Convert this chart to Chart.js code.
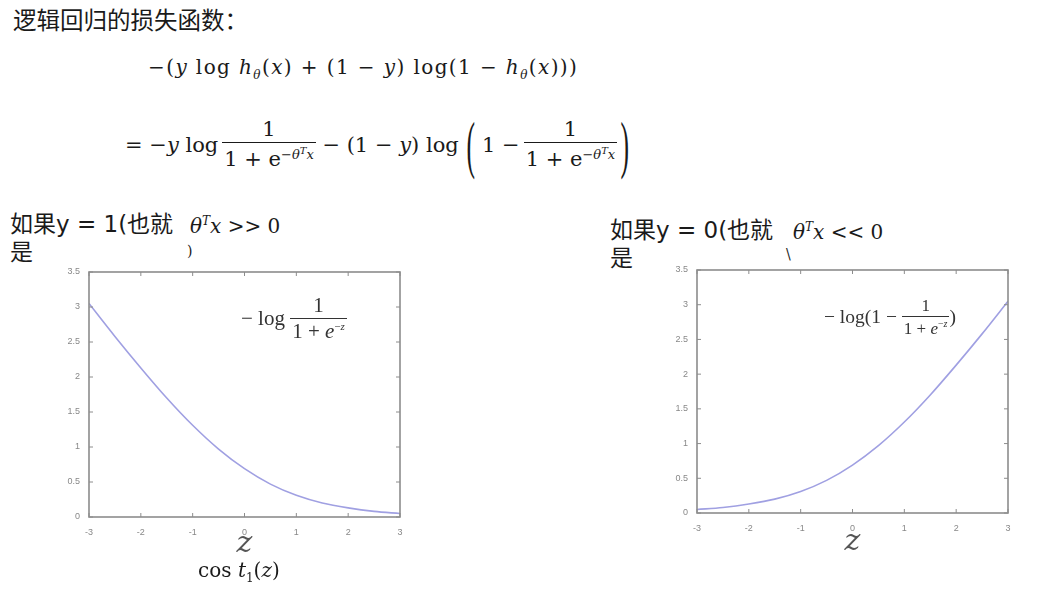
<!DOCTYPE html>
<html lang="zh">
<head>
<meta charset="UTF-8" />
<title>逻辑回归的损失函数</title>
<script src="https://cdn.jsdelivr.net/npm/chart.js@4.4.0/dist/chart.umd.min.js"></script>
<style>
    body { margin: 0; width: 1053px; height: 591px; background: #fff; position: relative; overflow: hidden; }
    .abs { position: absolute; white-space: nowrap; line-height: 1; }
    .cjk { font-family: "DejaVu Sans", "Noto Sans CJK SC", sans-serif; color: #1a1a1a; }
    .math { font-family: "DejaVu Serif", "Liberation Serif", serif; color: #1a1a1a; }
    .tex { font-family: "Liberation Serif", serif; color: #333; }
    .math i, .tex i { font-style: italic; }
    .frac { display: inline-flex; flex-direction: column; align-items: center; vertical-align: middle; }
    .frac .num { padding: 0 2px 2px; }
    .frac .den { border-top: 1.3px solid #1a1a1a; padding: 2px 2px 0; }
    .row { display: flex; align-items: center; }
    .big { font-size: 64px; transform: scaleX(0.4); display: inline-block; font-family: "Liberation Serif", serif; margin: 0 -3px; }
    .gap { display: inline-block; width: 4px; }
    canvas { position: absolute; }
</style>
</head>
<body>
    <div class="abs cjk" style="left:13px;top:8px;font-size:23.5px;font-family:'Noto Sans CJK SC',sans-serif;">逻辑回归的损失函数：</div>

    <div class="abs math" style="left:148px;top:57px;font-size:20px;letter-spacing:1.4px;">
        −(<i>y</i> log <i>h</i><sub style="font-size:12px"><i>θ</i></sub>(<i>x</i>) + (1 − <i>y</i>) log(1 − <i>h</i><sub style="font-size:12px"><i>θ</i></sub>(<i>x</i>)))
    </div>

    <div class="abs math row" style="left:125px;top:113px;height:64px;font-size:21px;">
        <span>= −<i>y</i> log</span>
        <span class="gap"></span>
        <span class="frac"><span class="num">1</span><span class="den">1 + e<sup style="font-size:13px">−<i>θ</i><sup style="font-size:10px"><i>T</i></sup><i>x</i></sup></span></span>
        <span>&nbsp;− (1 − <i>y</i>) log</span>
        <span class="gap"></span>
        <span class="big">(</span>
        <span class="gap"></span>
        <span>1 −</span>
        <span class="gap"></span>
        <span class="frac"><span class="num">1</span><span class="den">1 + e<sup style="font-size:13px">−<i>θ</i><sup style="font-size:10px"><i>T</i></sup><i>x</i></sup></span></span>
        <span class="big">)</span>
    </div>

    <div class="abs cjk" style="left:10px;top:213px;font-size:23px;">如果y = 1(也就</div>
    <div class="abs math" style="left:190px;top:215px;font-size:20px;"><i>θ</i><sup style="font-size:12px"><i>T</i></sup><i>x</i> &gt;&gt; 0</div>
    <div class="abs cjk" style="left:10px;top:241px;font-size:23px;">是</div>
    <div class="abs math" style="left:187px;top:244px;font-size:14px;">)</div>

    <div class="abs cjk" style="left:610px;top:219px;font-size:23px;">如果y = 0(也就</div>
    <div class="abs math" style="left:793px;top:221px;font-size:20px;"><i>θ</i><sup style="font-size:12px"><i>T</i></sup><i>x</i> &lt;&lt; 0</div>
    <div class="abs cjk" style="left:610px;top:247px;font-size:23px;">是</div>
    <div class="abs math" style="left:786px;top:247px;font-size:14px;">\</div>

    <canvas id="costPos" width="350" height="300" style="left:60px;top:262px;"></canvas>
    <canvas id="costNeg" width="350" height="300" style="left:668px;top:260px;"></canvas>

    <div class="abs tex" style="left:241px;top:295px;font-size:21px;">
        <span class="row"><span>− log&nbsp;</span><span class="frac"><span class="num">1</span><span class="den" style="border-color:#333">1 + <i>e</i><sup style="font-size:11px">−<i>z</i></sup></span></span></span>
    </div>
    <div class="abs tex" style="left:824px;top:297px;font-size:19.5px;">
        <span class="row"><span>− log(1 −&nbsp;</span><span class="frac" style="font-size:17px"><span class="num">1</span><span class="den" style="border-color:#333">1 + <i>e</i><sup style="font-size:10px">−<i>z</i></sup></span></span><span>)</span></span>
    </div>

    <div class="abs math" style="left:198px;top:560px;font-size:20px;">cos <i>t</i><sub style="font-size:12px">1</sub>(<i>z</i>)</div>

<script>
    const zValues = [-3, -2.5, -2, -1.5, -1, -0.5, 0, 0.5, 1, 1.5, 2, 2.5, 3];
    const costWhenY1 = [3.05, 2.58, 2.13, 1.70, 1.31, 0.97, 0.69, 0.47, 0.31, 0.20, 0.13, 0.08, 0.05];
    const costWhenY0 = [0.05, 0.08, 0.13, 0.20, 0.31, 0.47, 0.69, 0.97, 1.31, 1.70, 2.13, 2.58, 3.05];
    const xTicks = [-3, -2, -1, 0, 1, 2, 3];
    const yTicks = [0, 0.5, 1, 1.5, 2, 2.5, 3, 3.5];

    const axisColor = "#8c8c8c";

    // matlab style box with ticks pointing inwards
    const boxPlugin = {
        id: "box",
        afterDraw(chart) {
            const ctx = chart.ctx;
            const a = chart.chartArea;
            const x = chart.scales.x;
            const y = chart.scales.y;
            ctx.save();
            ctx.strokeStyle = axisColor;
            ctx.lineWidth = 1.6;
            ctx.strokeRect(a.left, a.top, a.right - a.left, a.bottom - a.top);
            ctx.lineWidth = 1;
            ctx.beginPath();
            xTicks.forEach(function (v) {
                const px = x.getPixelForValue(v);
                ctx.moveTo(px, a.bottom); ctx.lineTo(px, a.bottom - 4);
                ctx.moveTo(px, a.top); ctx.lineTo(px, a.top + 4);
            });
            yTicks.forEach(function (v) {
                const py = y.getPixelForValue(v);
                ctx.moveTo(a.left, py); ctx.lineTo(a.left + 4, py);
                ctx.moveTo(a.right, py); ctx.lineTo(a.right - 4, py);
            });
            ctx.stroke();
            ctx.restore();
        }
    };

    function makeChart(id, values, xAxisHeight) {
        return new Chart(document.getElementById(id), {
            type: "line",
            data: {
                datasets: [{
                    data: zValues.map(function (z, i) { return { x: z, y: values[i] }; }),
                    borderColor: "#a0a0e2",
                    borderWidth: 1.6,
                    pointRadius: 0,
                    cubicInterpolationMode: "monotone",
                    fill: false
                }]
            },
            options: {
                responsive: false,
                animation: false,
                layout: { padding: { top: 10, right: 10, left: 0, bottom: 0 } },
                plugins: { legend: { display: false }, tooltip: { enabled: false } },
                scales: {
                    x: {
                        type: "linear",
                        min: -3,
                        max: 3,
                        afterBuildTicks: function (s) { s.ticks = xTicks.map(function (v) { return { value: v }; }); },
                        afterFit: function (s) { s.height = xAxisHeight; },
                        grid: { display: false },
                        border: { display: false },
                        ticks: { color: "#888", font: { size: 9 }, padding: 2, maxRotation: 0, callback: function (v) { return String(v); } },
                        title: {
                            display: true,
                            text: "z",
                            color: "#555",
                            font: { family: "DejaVu Serif", style: "italic", size: 30 },
                            padding: { top: -6, bottom: 0 }
                        }
                    },
                    y: {
                        min: 0,
                        max: 3.5,
                        afterBuildTicks: function (s) { s.ticks = yTicks.map(function (v) { return { value: v }; }); },
                        afterFit: function (s) { s.width = 29; },
                        grid: { display: false },
                        border: { display: false },
                        ticks: { color: "#888", font: { size: 9 }, padding: 1, callback: function (v) { return String(v); } }
                    }
                }
            },
            plugins: [boxPlugin]
        });
    }

    makeChart("costPos", costWhenY1, 45);
    makeChart("costNeg", costWhenY0, 47);
</script>
</body>
</html>
